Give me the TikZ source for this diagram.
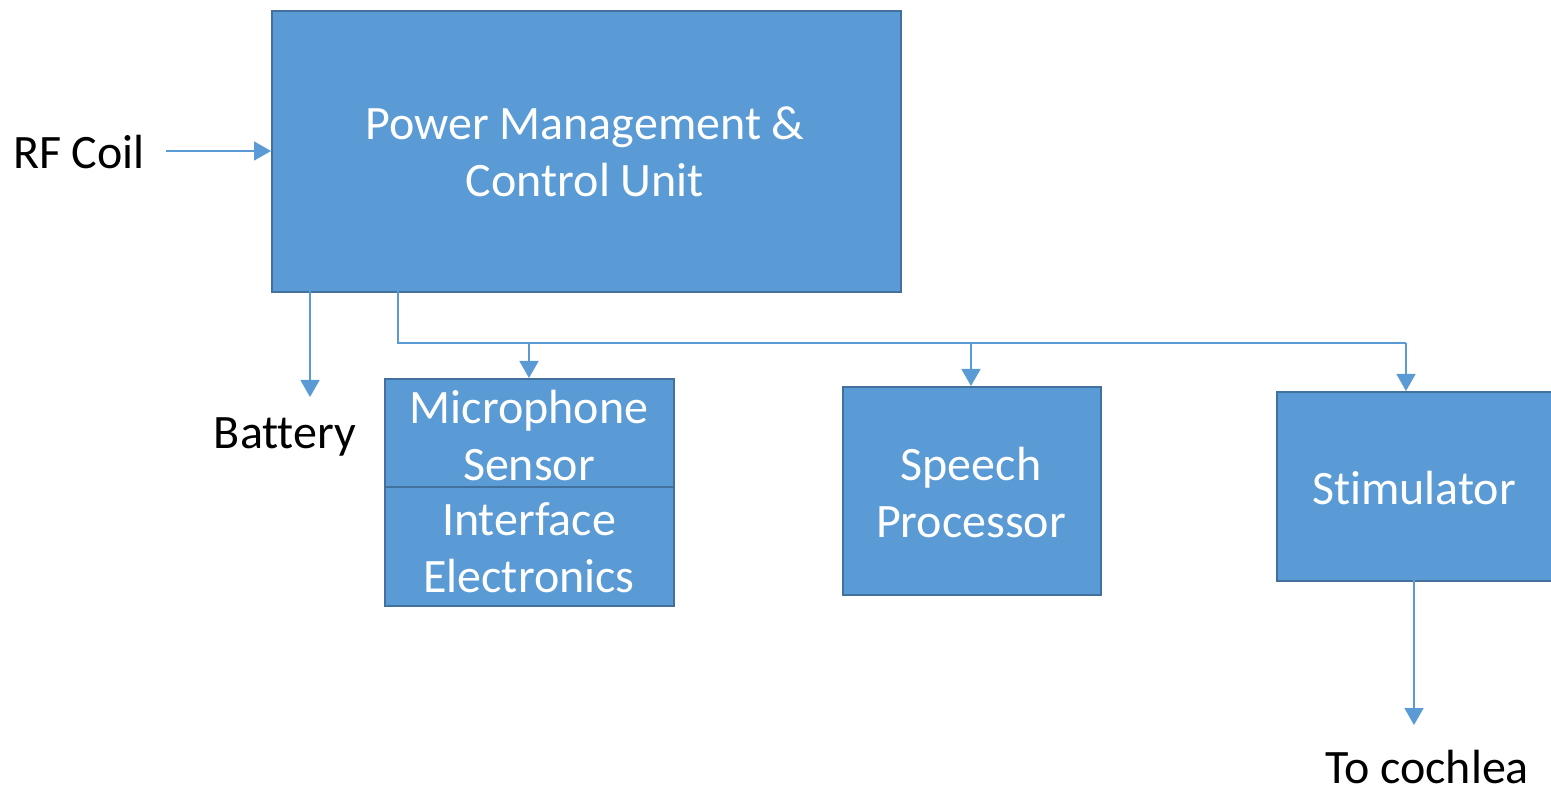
\documentclass[tikz,border=0pt]{standalone}
\usepackage{fontspec}
\setmainfont{Carlito}[Ligatures={NoCommon}]
\usetikzlibrary{arrows.meta}
\definecolor{boxfill}{HTML}{5B9BD5}
\definecolor{boxedge}{HTML}{41719C}
\definecolor{wire}{HTML}{5B9BD5}
\tikzset{
  block/.style={draw=boxedge, line width=2pt, fill=boxfill, inner sep=0pt},
  blocktext/.style={text=white, font=\fontsize{48}{57}\selectfont, align=center, inner sep=0pt},
  label/.style={text=black, font=\fontsize{48}{57}\selectfont, inner sep=0pt},
  wireline/.style={draw=wire, line width=1.4pt},
  arrowline/.style={wireline, -{Triangle[width=19pt,length=17pt]}}
}
\begin{document}
\begin{tikzpicture}[x=1pt,y=-1pt]
\useasboundingbox (0,0) rectangle (1551,791);
\begin{scope}
\clip (0,0) rectangle (1551,791);
% main unit
\node[block, minimum width=629pt, minimum height=281pt, anchor=north west] (pmcu) at (271,10) {};
\node[blocktext] (pmcutext) at (585,152) {Power Management \&\\Control Unit};
% lower blocks
\node[block, minimum width=289pt, minimum height=108pt, anchor=north west] (mic) at (384,378) {};
\node[blocktext] (mictext) at (529,436) {Microphone\\Sensor};
\node[block, minimum width=289pt, minimum height=119pt, anchor=north west] (iface) at (384,486) {};
\node[blocktext] (ifacetext) at (529,548) {Interface\\Electronics};
\node[block, minimum width=258pt, minimum height=208pt, anchor=north west] (speech) at (842,386) {};
\node[blocktext] (speechtext) at (971,493) {Speech\\Processor};
\node[block, minimum width=290pt, minimum height=189pt, anchor=north west] (stim) at (1276,391) {};
\node[blocktext] (stimtext) at (1414,488) {Stimulator};
\end{scope}
% external labels
\node[label] (rf) at (79,152) {RF Coil};
\node[label] (bat) at (285,437) {Battery};
\node[label] (coch) at (1427,767) {To cochlea};
% free ends and bus corners
\coordinate (rfend) at (166,151);
\coordinate (batend) at (310,397);
\coordinate (batstart) at (310,291);
\coordinate (busstart) at (398,291);
\coordinate (buscorner) at (398,343);
\coordinate (busend) at (1406,343);
\coordinate (micdrop) at (529,343);
\coordinate (speechdrop) at (971,343);
\coordinate (stimout) at (1414,580);
\coordinate (cochend) at (1414,725);
% connectors
\draw[arrowline] (rfend) -- (pmcu.west |- rfend);
\draw[arrowline] (batstart) -- (batend);
\draw[wireline] (busstart) -- (buscorner) -- (busend);
\draw[arrowline] (micdrop) -- (mic.north -| micdrop);
\draw[arrowline] (speechdrop) -- (speech.north -| speechdrop);
\draw[arrowline] (busend) -- (stim.north -| busend);
\draw[arrowline] (stimout) -- (cochend);
\end{tikzpicture}
\end{document}
